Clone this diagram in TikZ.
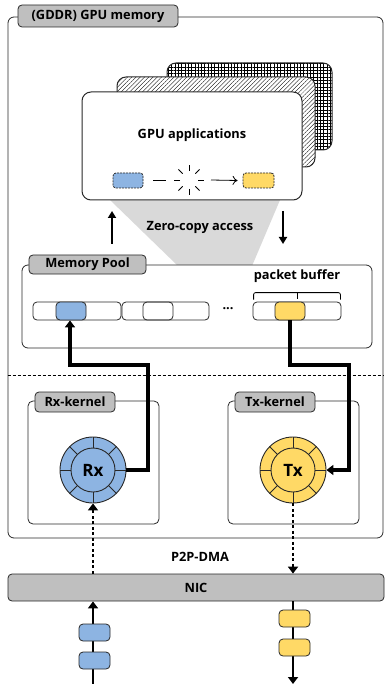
\documentclass[tikz,border=0pt]{standalone}
\usepackage{fontspec}
\setmainfont{Open Sans}[BoldFont={Open Sans Bold}]
\usetikzlibrary{arrows.meta,patterns.meta,calc}
\definecolor{rxblue}{RGB}{141,180,226}
\definecolor{txyel}{RGB}{255,217,102}
\definecolor{tabgray}{RGB}{191,191,191}
\definecolor{zcgray}{RGB}{217,217,217}
\definecolor{linec}{RGB}{40,40,40}
\begin{document}
\begin{tikzpicture}[x=1pt,y=-1pt,
  every node/.style={font=\bfseries\fontsize{12.8}{15}\selectfont, inner sep=0pt},
  frame/.style={draw=linec, line width=0.8pt, rounded corners=6pt},
  tab/.style={draw=linec, fill=tabgray, line width=0.8pt, rounded corners=4pt},
  card/.style={draw=linec, line width=1pt, rounded corners=9pt},
  cell/.style={draw=linec, line width=0.8pt, rounded corners=4pt, minimum height=18pt},
  pkt/.style={draw=linec, line width=0.8pt, rounded corners=4pt, minimum width=31pt, minimum height=17pt},
  appbox/.style={draw=linec, line width=0.8pt, dash pattern=on 2pt off 1pt, rounded corners=3pt, minimum height=15pt},
  ring/.style={circle, draw=linec, line width=0.9pt, minimum size=66pt},
  core/.style={circle, draw=linec, line width=0.9pt, minimum size=44pt, font=\bfseries\fontsize{17}{19}\selectfont},
  thick arrow/.style={line width=3.2pt, -{Triangle[width=10pt,length=7pt]}},
  dot arrow/.style={line width=2.8pt, dash pattern=on 3pt off 2.5pt, -{Triangle[width=10pt,length=7pt]}},
  wire arrow/.style={line width=2.5pt, -{Triangle[width=10pt,length=7pt]}}
]
\useasboundingbox (0,0) rectangle (385,684);

% outer GPU memory frame
\node[frame, minimum width=375pt, minimum height=521pt] (gpumem) at (195.5,277.5) {};
\node[tab, minimum width=160pt, minimum height=22pt] (gputab) at (98,16) {(GDDR) GPU memory};

% zero-copy trapezoid
\fill[zcgray] (110,200) -- (280,200) -- (252,266) -- (178,266) -- cycle;

% stacked application cards
\draw[card, preaction={fill=white}, pattern={Hatch[angle=0, distance=3.3pt, line width=0.35pt]}] (167,63) rectangle (332,150);
\draw[card, preaction={fill=white}, pattern={Lines[angle=45, distance=3pt, line width=0.35pt]}] (117,77) rectangle (315,167);
\node[card, fill=white, minimum width=220pt, minimum height=108pt] (app) at (192,146) {};
\node (apptext) at (192,135) {GPU applications};
\node[appbox, fill=rxblue, minimum width=30pt] (ablue) at (128,180.5) {};
\node[appbox, fill=txyel, minimum width=31pt] (ayel) at (258.5,180.5) {};
\coordinate (burst) at (189,180);
\draw[line width=0.8pt] ([xshift=10pt]ablue.east) -- ++(13,0);
\foreach \a in {0,45,...,315}
  \draw[line width=0.8pt] ($(burst)+(\a:9pt)$) -- ($(burst)+(\a:15pt)$);
\draw[line width=0.8pt, -{To[length=5pt,width=9pt]}] ($(burst)+(22,0)$) -- ([xshift=-5pt]ayel.west);

\node (zc) at (200,227) {Zero-copy access};
\coordinate (upS) at (112,244);
\coordinate (upE) at (112,211);
\coordinate (dnS) at (283,211);
\coordinate (dnE) at (283,244);
\draw[line width=2.4pt, -{Triangle[width=8pt,length=7pt]}] (upS) -- (upE);
\draw[line width=2.4pt, -{Triangle[width=8pt,length=7pt]}] (dnS) -- (dnE);

% memory pool
\node[frame, fill=white, minimum width=350pt, minimum height=83pt] (pool) at (197,306.5) {};
\node[tab, minimum width=117pt, minimum height=19pt] (pooltab) at (87.5,264.5) {Memory Pool};
\node[cell, minimum width=88pt] (g1) at (77,311) {};
\node[cell, fill=rxblue, minimum width=30pt] (b1) at (71,311) {};
\node[cell, minimum width=87pt] (g2) at (165.5,311) {};
\node[cell, minimum width=30pt] (b2) at (158,311) {};
\node (dots) at (228,309) {...};
\node[cell, minimum width=88pt] (g3) at (297,311) {};
\node[cell, fill=txyel, minimum width=30pt] (b3) at (290,311) {};
\draw[line width=0.8pt, rounded corners=2pt] (g3.north west)++(1,-2) -- ++(0,-7) -- ([xshift=-1pt,yshift=9pt]g3.north east) -- ++(0,7);
\draw[line width=0.8pt] ([yshift=9pt]g3.north) -- ++(0,6);
\node (pb) at (297,276) {packet buffer};

% host / device divider
\draw[line width=0.6pt, dash pattern=on 3pt off 2pt] (gpumem.west |- 0,375) -- (gpumem.east |- 0,375);

% kernels
\node[frame, rounded corners=5pt, minimum width=131pt, minimum height=123pt] (rxk) at (93.5,462.5) {};
\node[tab, minimum width=80pt, minimum height=20pt] (rxtab) at (75,402) {Rx-kernel};
\node[frame, rounded corners=5pt, minimum width=131pt, minimum height=123pt] (txk) at (293.5,462.5) {};
\node[tab, minimum width=80pt, minimum height=20pt] (txtab) at (275,402) {Tx-kernel};

\node[ring, fill=rxblue] (rx) at (93,470) {};
\foreach \a in {0,45,...,315}
  \draw[line width=0.9pt, draw=linec] ($(rx.center)+(\a:22pt)$) -- ($(rx.center)+(\a:33pt)$);
\node[core] (rxc) at (93,470) {Rx};
\node[ring, fill=txyel] (tx) at (293,470) {};
\foreach \a in {0,45,...,315}
  \draw[line width=0.9pt, draw=linec] ($(tx.center)+(\a:22pt)$) -- ($(tx.center)+(\a:33pt)$);
\node[core] (txc) at (293,470) {Tx};

% thick data-path arrows
\draw[thick arrow] (rx.east) -- (148,470) -- (148,365) -- (70,365) -- (b1.south -| 70,0);
\draw[thick arrow] (b3.south) -- (290,365) -- (349,365) -- (349,470) -- (tx.east);

% NIC
\node[draw=linec, fill=tabgray, line width=0.8pt, rounded corners=4pt, minimum width=376pt, minimum height=27pt] (nic) at (196,587.5) {NIC};
\node (p2p) at (200,557) {P2P-DMA};

\draw[dot arrow] (nic.north -| rx.south) -- (rx.south);
\draw[dot arrow] (tx.south) -- (nic.north -| tx.south);

% wire packets
\coordinate (rxin) at (93,684);
\coordinate (txout) at (293,684);
\draw[wire arrow] (rxin) -- (nic.south -| rxin);
\draw[wire arrow] (nic.south -| txout) -- (txout);
\node[pkt, fill=rxblue] (rp1) at (94.5,632.5) {};
\node[pkt, fill=rxblue] (rp2) at (94.5,660.5) {};
\node[pkt, fill=txyel] (tp1) at (294.5,618.5) {};
\node[pkt, fill=txyel] (tp2) at (294.5,647.5) {};
\end{tikzpicture}
\end{document}
